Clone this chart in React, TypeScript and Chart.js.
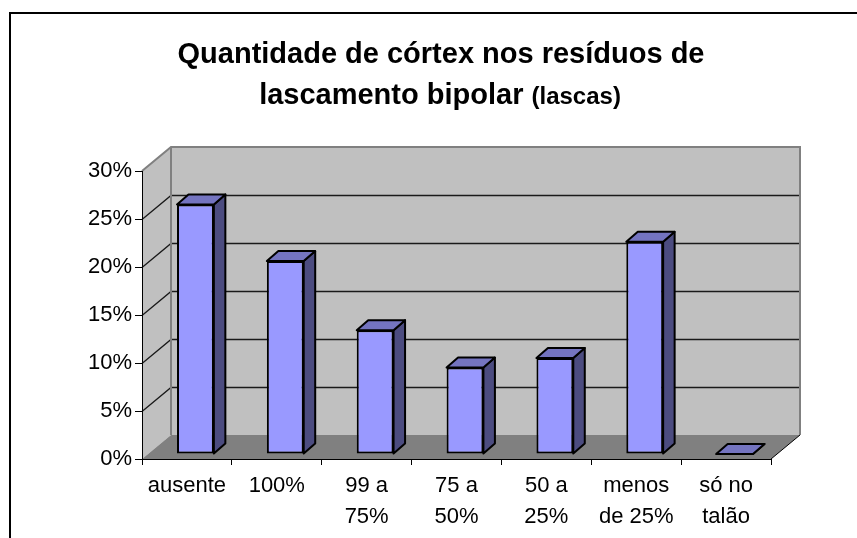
import React, { useEffect, useRef } from "react";
import { Chart, registerables } from "chart.js";

Chart.register(...registerables);

// ---- data ----
const categories: string[][] = [
  ["ausente"],
  ["100%"],
  ["99 a", "75%"],
  ["75 a", "50%"],
  ["50 a", "25%"],
  ["menos", "de 25%"],
  ["só no", "talão"],
];
const values: number[] = [26.0, 20.1, 12.9, 9.0, 10.0, 22.1, 0];
const yMin = 0;
const yMax = 30;
const yStep = 5;
const titleLine1 = "Quantidade de córtex nos resíduos de";
const titleLine2Main = "lascamento bipolar ";
const titleLine2Small = "(lascas)";

// ---- style constants ----
const FONT = '"Liberation Sans", Arial, sans-serif';
const DEPTH_X = 29; // wall depth offset
const DEPTH_Y = 24;
const BAR_SHIFT_X = 8.5; // bar front face position inside depth
const BAR_SHIFT_Y = -5;
const BAR_DX = 11.5; // bar depth
const BAR_DY = 10;

const threeD = {
  id: "threeD",
  beforeDraw(chart: any) {
    const ctx = chart.ctx;
    const { left, right, top, bottom } = chart.chartArea;
    const y = chart.scales.y;
    ctx.save();
    ctx.fillStyle = "#ffffff";
    ctx.fillRect(0, 0, chart.width, chart.height);

    // outer frame
    ctx.strokeStyle = "#000";
    ctx.lineWidth = 2;
    ctx.strokeRect(10, 13, 1000, 1000);

    // back wall
    ctx.fillStyle = "#C0C0C0";
    ctx.fillRect(left + DEPTH_X, top - DEPTH_Y, right - left, bottom - top);
    // side wall
    ctx.beginPath();
    ctx.moveTo(left, bottom);
    ctx.lineTo(left, top);
    ctx.lineTo(left + DEPTH_X, top - DEPTH_Y);
    ctx.lineTo(left + DEPTH_X, bottom - DEPTH_Y);
    ctx.closePath();
    ctx.fill();

    // grid lines
    ctx.strokeStyle = "#1a1a1a";
    ctx.lineWidth = 1.3;
    for (let v = yMin + yStep; v < yMax; v += yStep) {
      const py = Math.round(y.getPixelForValue(v)) + 0.5;
      ctx.beginPath();
      ctx.moveTo(left, py);
      ctx.lineTo(left + DEPTH_X, py - DEPTH_Y);
      ctx.lineTo(right + DEPTH_X, py - DEPTH_Y);
      ctx.stroke();
    }

    // wall edges
    ctx.strokeStyle = "#808080";
    ctx.lineWidth = 2;
    ctx.beginPath();
    ctx.moveTo(left, top);
    ctx.lineTo(left + DEPTH_X, top - DEPTH_Y);
    ctx.lineTo(right + DEPTH_X, top - DEPTH_Y);
    ctx.lineTo(right + DEPTH_X, bottom - DEPTH_Y);
    ctx.moveTo(left + DEPTH_X, top - DEPTH_Y);
    ctx.lineTo(left + DEPTH_X, bottom - DEPTH_Y);
    ctx.stroke();

    // floor
    ctx.fillStyle = "#808080";
    ctx.beginPath();
    ctx.moveTo(left, bottom);
    ctx.lineTo(right, bottom);
    ctx.lineTo(right + DEPTH_X, bottom - DEPTH_Y);
    ctx.lineTo(left + DEPTH_X, bottom - DEPTH_Y);
    ctx.closePath();
    ctx.fill();
    ctx.strokeStyle = "#000";
    ctx.lineWidth = 1;
    ctx.beginPath();
    ctx.moveTo(right, bottom);
    ctx.lineTo(right + DEPTH_X, bottom - DEPTH_Y);
    ctx.stroke();
    ctx.restore();
  },
  beforeDatasetsDraw(chart: any) {
    const ctx = chart.ctx;
    ctx.save();
    ctx.translate(BAR_SHIFT_X, BAR_SHIFT_Y);
    const meta = chart.getDatasetMeta(0);
    ctx.lineJoin = "round";
    meta.data.forEach((el: any) => {
      const { x, y, base, width } = el.getProps(["x", "y", "base", "width"], true);
      const l = x - width / 2;
      const r = x + width / 2;
      // side face
      ctx.beginPath();
      ctx.moveTo(r, y);
      ctx.lineTo(r + BAR_DX, y - BAR_DY);
      ctx.lineTo(r + BAR_DX, base - BAR_DY);
      ctx.lineTo(r, base);
      ctx.closePath();
      ctx.fillStyle = "#4C4C80";
      ctx.fill();
      ctx.strokeStyle = "#000";
      ctx.lineWidth = 2;
      ctx.stroke();
      // top face
      ctx.beginPath();
      ctx.moveTo(l, y);
      ctx.lineTo(r, y);
      ctx.lineTo(r + BAR_DX, y - BAR_DY);
      ctx.lineTo(l + BAR_DX, y - BAR_DY);
      ctx.closePath();
      ctx.fillStyle = "#7474C0";
      ctx.fill();
      ctx.stroke();
    });
  },
  afterDatasetsDraw(chart: any) {
    chart.ctx.restore();
  },
  afterDraw(chart: any) {
    const ctx = chart.ctx;
    ctx.save();
    ctx.fillStyle = "#000";
    ctx.textBaseline = "alphabetic";
    ctx.font = `bold 29px ${FONT}`;
    ctx.textAlign = "center";
    ctx.fillText(titleLine1, 441, 63);
    ctx.textAlign = "left";
    const w1 = ctx.measureText(titleLine2Main).width;
    ctx.font = `bold 24px ${FONT}`;
    const w2 = ctx.measureText(titleLine2Small).width;
    const sx = 440 - (w1 + w2) / 2;
    ctx.font = `bold 29px ${FONT}`;
    ctx.fillText(titleLine2Main, sx, 104);
    ctx.font = `bold 24px ${FONT}`;
    ctx.fillText(titleLine2Small, sx + w1, 104);
    ctx.restore();
  },
};

export default function App() {
  const ref = useRef<HTMLCanvasElement | null>(null);
  useEffect(() => {
    if (!ref.current) return;
    const chart = new Chart(ref.current, {
      type: "bar",
      data: {
        labels: categories,
        datasets: [
          {
            data: values,
            backgroundColor: "#9999FF",
            borderColor: "#000",
            borderWidth: 2,
            borderSkipped: false,
            categoryPercentage: 0.41,
            barPercentage: 1,
            clip: false,
          } as any,
        ],
      },
      options: {
        animation: false,
        responsive: false,
        maintainAspectRatio: false,
        layout: { padding: { top: 171, right: 86, left: 0, bottom: 0 } },
        plugins: {
          legend: { display: false },
          title: { display: false },
          tooltip: { enabled: false },
        },
        scales: {
          x: {
            afterFit: (s: any) => {
              s.height = 79;
            },
            grid: {
              drawOnChartArea: false,
              drawTicks: true,
              tickLength: 6,
              color: "#000",
              lineWidth: 1,
            },
            border: { display: true, color: "#000", width: 1 },
            ticks: {
              color: "#000",
              font: { family: FONT, size: 22, lineHeight: 1.38 },
              padding: 6,
              maxRotation: 0,
              autoSkip: false,
            },
          },
          y: {
            min: yMin,
            max: yMax,
            afterFit: (s: any) => {
              s.width = 142;
            },
            grid: {
              drawOnChartArea: false,
              drawTicks: true,
              tickLength: 7,
              color: "#000",
              lineWidth: 1,
            },
            border: { display: true, color: "#000", width: 1 },
            ticks: {
              stepSize: yStep,
              color: "#000",
              font: { family: FONT, size: 22 },
              padding: 3,
              callback: (v: any) => `${v}%`,
            },
          },
        },
      },
      plugins: [threeD],
    });
    return () => chart.destroy();
  }, []);
  return (
    <div style={{ position: "fixed", left: 0, top: 0, width: 857, height: 538, background: "#fff" }}>
      <canvas ref={ref} width={857} height={538} style={{ display: "block", width: 857, height: 538 }} />
    </div>
  );
}
